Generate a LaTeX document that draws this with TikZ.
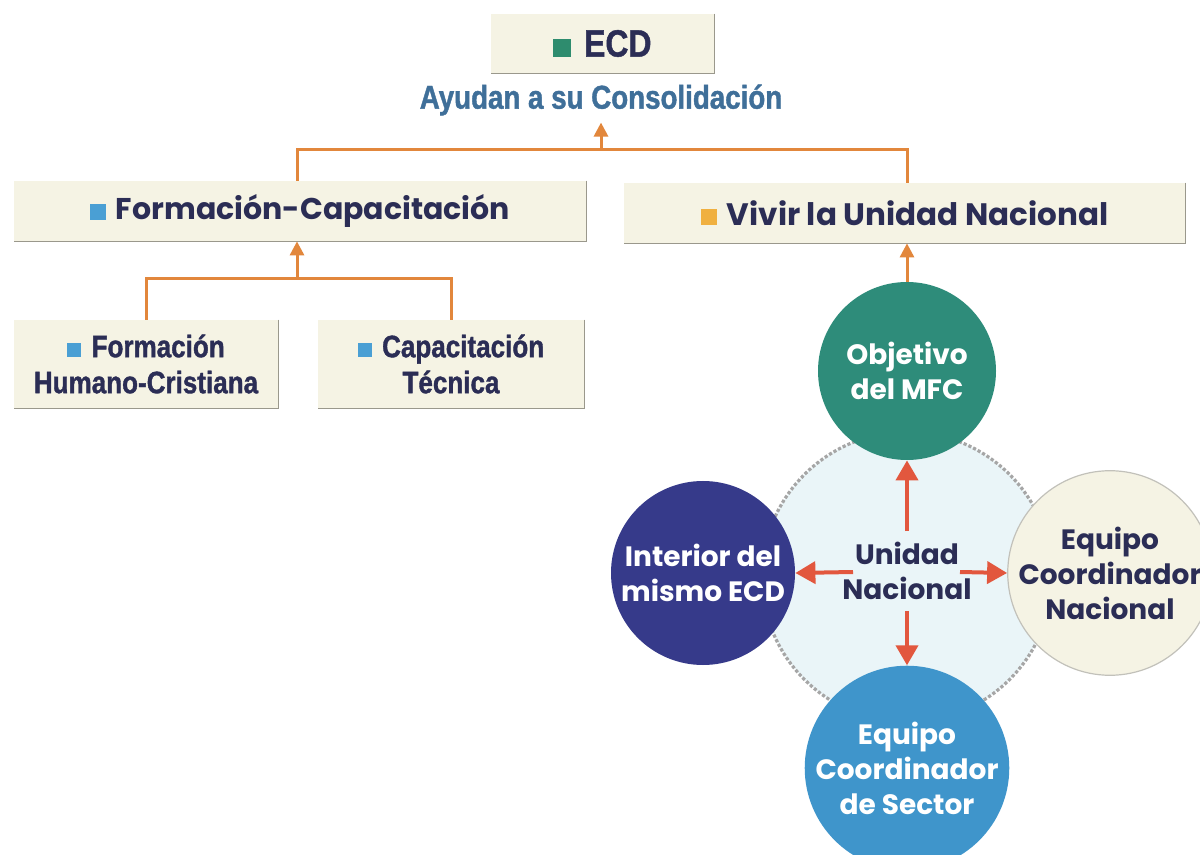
\documentclass[tikz,border=0pt]{standalone}
\usepackage{fontspec}
\setmainfont{Liberation Sans}
\newfontfamily\gothic{Poppins}
\newfontfamily\narrow[FakeStretch=0.84, BoldFeatures={FakeBold=1.2}]{Liberation Sans}
\usetikzlibrary{arrows.meta}
\definecolor{cream}{HTML}{F5F3E4}
\definecolor{edgegray}{HTML}{9A988C}
\definecolor{navy}{HTML}{2B2D55}
\definecolor{steel}{HTML}{3F6F99}
\definecolor{orangeln}{HTML}{E2873C}
\definecolor{redar}{HTML}{E2573E}
\definecolor{tealc}{HTML}{2E8C7A}
\definecolor{indigoc}{HTML}{363A8A}
\definecolor{skyb}{HTML}{3F95CB}
\definecolor{sqgreen}{HTML}{2E8C6E}
\definecolor{sqblue}{HTML}{4A9FD4}
\definecolor{sqyellow}{HTML}{F0B040}
\definecolor{palebg}{HTML}{EAF5F8}
\newcommand{\sq}[2]{\textcolor{#1}{\rule{#2}{#2}}}
\tikzset{
  box/.style={fill=cream, inner sep=0pt, align=center, text=navy},
  link/.style={draw=orangeln, line width=1.5pt},
  uparrow/.style={link, -{Triangle[width=7pt,length=7pt]}},
  redarrow/.style={draw=redar, line width=2pt, -{Triangle[width=11pt,length=10pt]}},
  disc/.style={circle, inner sep=0pt, minimum size=#1, align=center, font=\gothic\bfseries\fontsize{14}{17.5}\selectfont},
}
\begin{document}
\begin{tikzpicture}[x=0.5pt,y=-0.5pt]
\useasboundingbox[fill=white] (0,0) rectangle (1200,855);
% boxes
\node[box, minimum width=111.5pt, minimum height=29.5pt, font=\narrow\bfseries\fontsize{19}{21}\selectfont] (ecd) at (602.5,43.5) {\sq{sqgreen}{9pt}\,\,ECD};
\node[text=steel, font=\narrow\bfseries\fontsize{16.5}{19}\selectfont] (ayu) at (601,100) {Ayudan a su Consolidación};
\node[box, minimum width=286pt, minimum height=30pt, font=\gothic\bfseries\fontsize{15}{18}\selectfont] (fc) at (300,211) {\sq{sqblue}{8pt}\,\,Formación-Capacitación};
\node[box, minimum width=280.5pt, minimum height=30pt, font=\gothic\bfseries\fontsize{15.5}{18}\selectfont] (vun) at (904.5,213) {\sq{sqyellow}{8pt}\,\,Vivir la Unidad Nacional};
\node[box, minimum width=132pt, minimum height=44pt, font=\narrow\bfseries\fontsize{15.5}{18}\selectfont] (fhc) at (146,364) {\sq{sqblue}{7pt}\,\,Formación\\Humano-Cristiana};
\node[box, minimum width=133pt, minimum height=44pt, font=\narrow\bfseries\fontsize{15.5}{18}\selectfont] (ct) at (451,364) {\sq{sqblue}{7pt}\,\,Capacitación\\Técnica};
\foreach \n in {ecd,fc,vun,fhc,ct}{
  \draw[edgegray, line width=0.8pt] (\n.north east) -- (\n.south east) -- (\n.south west);
}
% tree connectors
\coordinate (j1) at (601,150);
\coordinate (j2) at (297,279);
\draw[link] (fc.north -| j2) |- (j1) -| (vun.north -| 907,0);
\draw[uparrow] (j1) -- (ayu.south);
\draw[link] (fhc.north) |- (j2) -| (ct.north);
\draw[uparrow] (j2) -- (fc.south -| j2);
% circle cluster
\node[circle, minimum size=145pt, fill=palebg, draw=gray!70, densely dotted, line width=1.6pt] (ring) at (907,577) {};
\node[disc=89pt, fill=tealc, text=white] (obj) at (907,371) {Objetivo\\del MFC};
\node[disc=92pt, fill=indigoc, text=white] (int) at (703,573) {Interior del\\mismo ECD};
\node[disc=90pt, fill=cream, draw=edgegray!60, line width=0.6pt, text=navy] (ecn) at (1110,573) {Equipo\\Coordinador\\Nacional};
\node[disc=92pt, fill=skyb, text=white] (ecs) at (907,768) {Equipo\\Coordinador\\de Sector};
\node[font=\gothic\bfseries\fontsize{14}{17.5}\selectfont, text=navy, align=center] (un) at (907,571) {Unidad\\Nacional};
\coordinate (ul) at (853,572);
\coordinate (ur) at (960,572);
\draw[uparrow] (obj.north) -- (vun.south -| obj.north);
\draw[redarrow] (un.north) ++(0,-4) -- (obj.south);
\draw[redarrow] (ul) -- (int.east);
\draw[redarrow] (ur) -- (ecn.west);
\draw[redarrow] (un.south) ++(0,4) -- (ecs.north);
\end{tikzpicture}
\end{document}
